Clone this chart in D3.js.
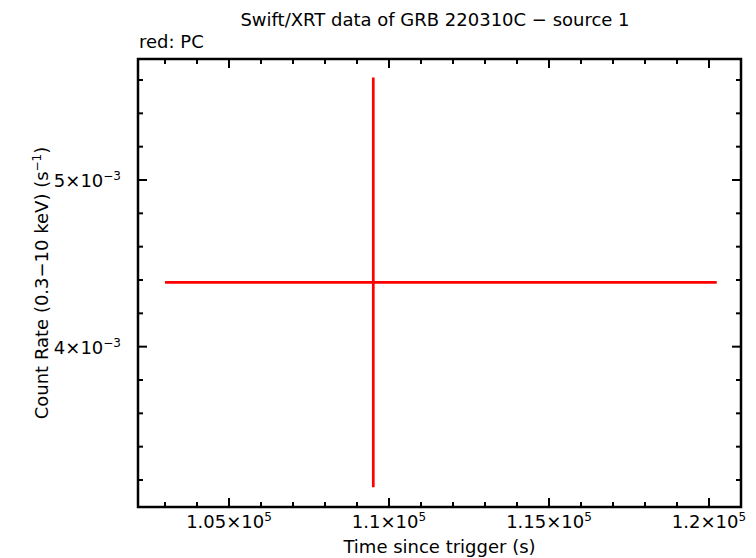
<!DOCTYPE html>
<html>
<head>
<meta charset="utf-8">
<script src="https://cdn.jsdelivr.net/npm/d3@7"></script>
<style>
  body { margin: 0; background: #fff; }
  svg { display: block; }
  text { font-family: "DejaVu Sans", "Liberation Sans", Arial, sans-serif; fill: #000; }
</style>
</head>
<body>
<svg id="chart"></svg>
<script>
// Light curve bin (PC mode)
const timeVals = [109509];
const timeErrLo = [6509];
const timeErrHi = [10732];
const rateVals = [4.386e-3];
const rateErr = [1.229e-3];

// Axis ticks and labels
const xMajorTicks = [105000, 110000, 115000, 120000];
const xTickLabels = ["1.05", "1.1", "1.15", "1.2"];
const xTickExp = "5";
const xMinorTicks = [103000, 104000, 106000, 107000, 108000, 109000, 111000, 112000, 113000, 114000, 116000, 117000, 118000, 119000, 121000];
const yMajorTicks = [0.004, 0.005];
const yTickLabels = ["4", "5"];
const yTickExp = "\u22123";
const yMinorTicks = [0.0032, 0.0034, 0.0036, 0.0038, 0.0042, 0.0044, 0.0046, 0.0048, 0.0052, 0.0054, 0.0056];

const W = 756, H = 558;
const margin = { top: 59, right: 15, bottom: 51, left: 138 };
const width = W - margin.left - margin.right;
const height = H - margin.top - margin.bottom;

const svg = d3.select("#chart").attr("width", W).attr("height", H);

const x = d3.scaleLinear().domain([102156, 121000]).range([margin.left, margin.left + width]);
const y = d3.scaleLinear().domain([3.038e-3, 5.726e-3]).range([margin.top + height, margin.top]);

const majorLen = 9, minorLen = 5;
const g = svg.append("g").attr("stroke", "#000").attr("stroke-width", 2);

// X ticks, bottom and top, pointing inward
xMajorTicks.forEach(v => {
    g.append("line").attr("x1", x(v)).attr("x2", x(v)).attr("y1", y.range()[0]).attr("y2", y.range()[0] - majorLen);
    g.append("line").attr("x1", x(v)).attr("x2", x(v)).attr("y1", y.range()[1]).attr("y2", y.range()[1] + majorLen);
});
xMinorTicks.forEach(v => {
    g.append("line").attr("x1", x(v)).attr("x2", x(v)).attr("y1", y.range()[0]).attr("y2", y.range()[0] - minorLen);
    g.append("line").attr("x1", x(v)).attr("x2", x(v)).attr("y1", y.range()[1]).attr("y2", y.range()[1] + minorLen);
});
// Y ticks, left and right
yMajorTicks.forEach(v => {
    g.append("line").attr("y1", y(v)).attr("y2", y(v)).attr("x1", x.range()[0]).attr("x2", x.range()[0] + majorLen);
    g.append("line").attr("y1", y(v)).attr("y2", y(v)).attr("x1", x.range()[1]).attr("x2", x.range()[1] - majorLen);
});
yMinorTicks.forEach(v => {
    g.append("line").attr("y1", y(v)).attr("y2", y(v)).attr("x1", x.range()[0]).attr("x2", x.range()[0] + minorLen);
    g.append("line").attr("y1", y(v)).attr("y2", y(v)).attr("x1", x.range()[1]).attr("x2", x.range()[1] - minorLen);
});

// Frame
svg.append("rect")
    .attr("x", margin.left).attr("y", margin.top)
    .attr("width", width).attr("height", height)
    .attr("fill", "none").attr("stroke", "#000").attr("stroke-width", 2.5);

// X tick labels
xMajorTicks.forEach((v, i) => {
    const t = svg.append("text")
        .attr("x", x(v)).attr("y", 528)
        .attr("text-anchor", "middle")
        .style("font-size", "18px");
    t.append("tspan").text(xTickLabels[i] + "\u00d710");
    t.append("tspan").attr("dy", -7).style("font-size", "12px").text(xTickExp);
});

// Y tick labels
yMajorTicks.forEach((v, i) => {
    const t = svg.append("text")
        .attr("x", 121).attr("y", y(v) + 7)
        .attr("text-anchor", "end")
        .style("font-size", "18px");
    t.append("tspan").text(yTickLabels[i] + "\u00d710");
    t.append("tspan").attr("dy", -7).style("font-size", "12px").text(yTickExp);
});

// Data: error bars
const data = timeVals.map((t, i) => ({ t, lo: timeErrLo[i], hi: timeErrHi[i], r: rateVals[i], e: rateErr[i] }));
const marks = svg.append("g").attr("stroke", "#ff0000").attr("stroke-width", 2.7);
marks.selectAll(".xerr").data(data).enter().append("line")
    .attr("x1", d => x(d.t - d.lo)).attr("x2", d => x(d.t + d.hi))
    .attr("y1", d => y(d.r)).attr("y2", d => y(d.r));
marks.selectAll(".yerr").data(data).enter().append("line")
    .attr("x1", d => x(d.t)).attr("x2", d => x(d.t))
    .attr("y1", d => y(d.r - d.e)).attr("y2", d => y(d.r + d.e));

// Titles
svg.append("text").attr("x", 435).attr("y", 26).attr("text-anchor", "middle")
    .style("font-size", "18px").text("Swift/XRT data of GRB 220310C \u2212 source 1");
svg.append("text").attr("x", 139).attr("y", 48)
    .style("font-size", "18px").text("red: PC");
svg.append("text").attr("x", (x.range()[0] + x.range()[1]) / 2).attr("y", 553).attr("text-anchor", "middle")
    .style("font-size", "18px").text("Time since trigger (s)");

const yl = svg.append("text")
    .attr("transform", "translate(48," + ((y.range()[0] + y.range()[1]) / 2) + ") rotate(-90)")
    .attr("text-anchor", "middle")
    .style("font-size", "18px");
yl.append("tspan").text("Count Rate (0.3\u221210 keV) (s");
yl.append("tspan").attr("dy", -7).style("font-size", "12px").text("\u22121");
yl.append("tspan").attr("dy", 7).text(")");
</script>
</body>
</html>
